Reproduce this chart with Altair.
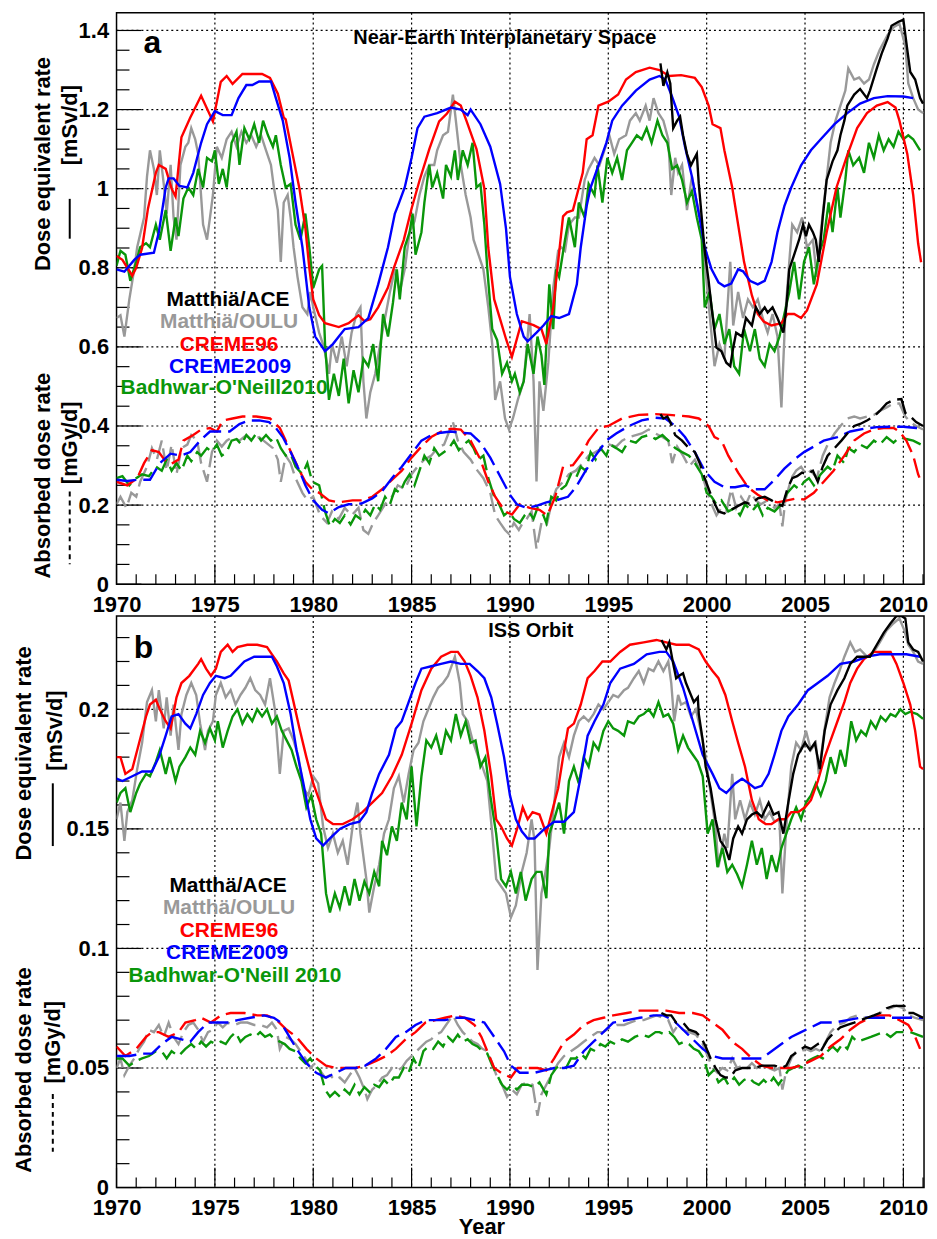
import altair as alt
import pandas as pd

# ---------------- data: (year, value) ----------------
# Panel a: Near-Earth interplanetary space
A_EQ_CREME96 = [(1970.0,0.83),(1970.3,0.82),(1970.8,0.78),(1971.0,0.80),(1971.3,0.85),(1971.6,0.95),(1972.0,1.04),(1972.15,1.06),(1972.5,1.05),(1972.8,1.00),(1973.0,0.98),(1973.3,1.13),(1973.75,1.18),(1974.15,1.22),(1974.3,1.235),(1974.9,1.17),(1975.3,1.27),(1975.6,1.285),(1975.9,1.265),(1976.4,1.29),(1977.4,1.29),(1977.8,1.28),(1978.2,1.24),(1978.5,1.18),(1978.6,1.175),(1978.9,1.10),(1979.3,1.00),(1979.6,0.90),(1979.8,0.80),(1980.0,0.72),(1980.3,0.68),(1980.6,0.66),(1981.3,0.65),(1981.8,0.66),(1982.3,0.68),(1982.6,0.665),(1982.9,0.67),(1983.3,0.70),(1983.8,0.75),(1984.1,0.80),(1984.6,0.87),(1985.0,0.95),(1985.4,1.02),(1985.9,1.10),(1986.4,1.17),(1986.8,1.19),(1987.2,1.22),(1987.5,1.21),(1987.8,1.17),(1988.3,1.10),(1988.7,1.00),(1988.9,0.85),(1989.2,0.72),(1989.5,0.67),(1989.8,0.62),(1990.1,0.575),(1990.6,0.665),(1991.2,0.655),(1991.6,0.645),(1991.85,0.607),(1992.2,0.70),(1992.7,0.93),(1992.9,0.94),(1993.2,0.945),(1993.7,1.04),(1993.9,1.125),(1994.2,1.135),(1994.5,1.21),(1995.0,1.22),(1995.5,1.238),(1995.9,1.276),(1996.4,1.295),(1997.1,1.306),(1997.6,1.30),(1998.1,1.285),(1998.7,1.287),(1999.4,1.28),(1999.75,1.257),(2000.1,1.21),(2000.3,1.163),(2000.7,1.153),(2000.9,1.097),(2001.3,1.003),(2001.6,0.909),(2001.9,0.815),(2002.3,0.73),(2002.6,0.683),(2002.9,0.664),(2003.3,0.654),(2003.8,0.66),(2004.1,0.683),(2004.45,0.683),(2004.8,0.673),(2005.1,0.692),(2005.6,0.758),(2006.1,0.89),(2006.6,1.003),(2007.1,1.078),(2007.65,1.153),(2008.15,1.191),(2008.65,1.21),(2009.2,1.219),(2009.6,1.205),(2009.8,1.172),(2010.2,1.088),(2010.5,0.984),(2010.75,0.862),(2010.9,0.814)]
A_EQ_CREME2009 = [(1970.0,0.796),(1970.4,0.79),(1970.9,0.82),(1971.2,0.833),(1971.9,0.838),(1972.15,0.89),(1972.5,1.003),(1972.65,1.026),(1972.9,1.026),(1973.2,1.007),(1973.6,1.003),(1973.9,1.04),(1974.3,1.116),(1974.6,1.163),(1975.0,1.196),(1975.4,1.186),(1975.85,1.186),(1976.2,1.229),(1976.6,1.262),(1976.9,1.262),(1977.25,1.271),(1977.85,1.271),(1978.1,1.229),(1978.45,1.172),(1978.8,1.078),(1979.1,0.965),(1979.45,0.852),(1979.8,0.70),(1980.1,0.626),(1980.6,0.589),(1981.0,0.607),(1981.3,0.626),(1981.6,0.645),(1982.3,0.65),(1982.8,0.673),(1983.3,0.758),(1983.8,0.852),(1984.15,0.937),(1984.3,0.956),(1984.65,1.003),(1985.0,1.078),(1985.3,1.153),(1985.65,1.182),(1986.3,1.191),(1987.0,1.205),(1987.5,1.20),(1987.85,1.186),(1988.0,1.20),(1988.5,1.163),(1989.0,1.106),(1989.5,1.012),(1989.8,0.899),(1990.0,0.777),(1990.35,0.683),(1990.7,0.626),(1990.9,0.614),(1991.35,0.636),(1991.7,0.654),(1992.1,0.678),(1992.5,0.673),(1993.0,0.683),(1993.4,0.758),(1993.6,0.852),(1993.9,0.956),(1994.1,1.003),(1994.5,1.059),(1994.9,1.116),(1995.2,1.172),(1995.7,1.21),(1996.4,1.248),(1997.1,1.276),(1997.6,1.285),(1997.9,1.276),(1998.2,1.238),(1998.6,1.182),(1998.9,1.106),(1999.25,1.031),(1999.6,0.937),(1999.9,0.852),(2000.25,0.796),(2000.6,0.763),(2000.9,0.753),(2001.25,0.76),(2001.6,0.796),(2001.85,0.791),(2002.2,0.767),(2002.6,0.758),(2002.95,0.767),(2003.3,0.815),(2003.6,0.89),(2003.95,0.956),(2004.3,1.003),(2004.8,1.059),(2005.3,1.097),(2005.8,1.125),(2006.5,1.163),(2007.15,1.191),(2007.8,1.215),(2008.5,1.229),(2009.2,1.234),(2010.0,1.233),(2010.5,1.229)]
A_EQ_ACE = [(1997.65,1.317),(1997.8,1.26),(1998.0,1.294),(1998.15,1.266),(1998.3,1.153),(1998.5,1.172),(1998.65,1.182),(1998.8,1.135),(1999.0,1.088),(1999.2,1.059),(1999.3,1.069),(1999.5,1.088),(1999.6,1.012),(1999.75,0.927),(1999.9,0.843),(2000.1,0.767),(2000.25,0.70),(2000.5,0.598),(2000.75,0.589),(2001.0,0.56),(2001.2,0.551),(2001.35,0.598),(2001.5,0.636),(2001.8,0.626),(2002.0,0.673),(2002.3,0.654),(2002.5,0.70),(2002.7,0.683),(2002.95,0.70),(2003.1,0.687),(2003.35,0.70),(2003.6,0.673),(2003.9,0.636),(2004.05,0.70),(2004.2,0.796),(2004.45,0.833),(2004.7,0.871),(2004.9,0.909),(2005.05,0.88),(2005.2,0.909),(2005.4,0.89),(2005.55,0.871),(2005.7,0.815),(2005.9,0.927),(2006.1,1.022),(2006.4,1.069),(2006.65,1.097),(2006.8,1.135),(2007.0,1.172),(2007.15,1.21),(2007.5,1.238),(2007.8,1.252),(2008.15,1.229),(2008.3,1.248),(2008.65,1.304),(2008.9,1.342),(2009.2,1.38),(2009.4,1.412),(2009.75,1.422),(2010.0,1.427),(2010.2,1.351),(2010.35,1.295),(2010.6,1.276),(2010.85,1.229),(2011.0,1.215)]
A_EQ_OULU = [(1970.0,0.673),(1970.2,0.68),(1970.4,0.626),(1970.65,0.72),(1970.9,0.796),(1971.05,0.852),(1971.4,0.927),(1971.55,1.031),(1971.7,1.097),(1971.9,1.05),(1972.05,0.984),(1972.2,1.097),(1972.4,1.012),(1972.55,0.937),(1972.75,1.06),(1972.9,0.927),(1973.05,0.871),(1973.25,1.06),(1973.5,1.106),(1973.65,1.116),(1973.8,1.153),(1974.0,1.125),(1974.15,1.088),(1974.4,0.909),(1974.6,0.871),(1974.75,0.927),(1974.9,0.984),(1975.1,1.106),(1975.35,1.078),(1975.6,1.125),(1975.85,1.144),(1976.1,1.106),(1976.35,1.144),(1976.6,1.116),(1976.85,1.135),(1977.1,1.106),(1977.35,1.135),(1977.6,1.097),(1977.85,1.06),(1978.0,1.003),(1978.2,0.946),(1978.35,0.815),(1978.5,0.965),(1978.7,0.984),(1978.85,0.927),(1979.0,0.852),(1979.2,0.777),(1979.45,0.70),(1979.7,0.683),(1979.85,0.739),(1980.0,0.70),(1980.3,0.636),(1980.55,0.598),(1980.8,0.532),(1980.95,0.607),(1981.2,0.56),(1981.45,0.626),(1981.7,0.551),(1981.95,0.636),(1982.2,0.683),(1982.4,0.70),(1982.55,0.513),(1982.7,0.419),(1982.9,0.485),(1983.15,0.532),(1983.4,0.607),(1983.65,0.673),(1983.9,0.739),(1984.15,0.796),(1984.4,0.739),(1984.65,0.796),(1984.9,0.89),(1985.15,0.918),(1985.4,0.984),(1985.65,1.031),(1985.9,1.06),(1986.15,1.06),(1986.3,1.097),(1986.6,1.135),(1986.85,1.144),(1987.1,1.238),(1987.25,1.172),(1987.5,1.06),(1987.75,0.984),(1988.0,0.927),(1988.15,0.871),(1988.4,0.833),(1988.65,0.796),(1988.9,0.70),(1989.1,0.607),(1989.25,0.466),(1989.5,0.513),(1989.75,0.419),(1989.95,0.391),(1990.15,0.419),(1990.4,0.466),(1990.7,0.513),(1991.0,0.683),(1991.2,0.513),(1991.35,0.26),(1991.5,0.513),(1991.7,0.438),(1991.95,0.56),(1992.2,0.749),(1992.45,0.843),(1992.6,0.852),(1992.8,0.843),(1993.0,0.909),(1993.3,0.927),(1993.5,0.927),(1993.8,1.022),(1994.0,1.05),(1994.3,1.078),(1994.55,1.059),(1994.8,1.097),(1995.05,1.135),(1995.3,1.088),(1995.55,1.125),(1995.9,1.135),(1996.1,1.172),(1996.4,1.191),(1996.6,1.172),(1996.9,1.21),(1997.1,1.172),(1997.3,1.229),(1997.55,1.191),(1997.8,1.172),(1998.05,1.125),(1998.2,0.984),(1998.4,1.078),(1998.55,1.04),(1998.75,1.06),(1999.0,0.946),(1999.25,1.031),(1999.5,0.965),(1999.75,0.909),(1999.9,0.815),(2000.15,0.683),(2000.4,0.551),(2000.65,0.607),(2000.9,0.57),(2001.2,0.815),(2001.35,0.654),(2001.6,0.739),(2001.85,0.673),(2002.1,0.72),(2002.35,0.70),(2002.6,0.72),(2002.85,0.673),(2003.1,0.636),(2003.35,0.683),(2003.6,0.626),(2003.8,0.447),(2004.0,0.683),(2004.2,0.815),(2004.35,0.909),(2004.6,0.89),(2004.85,0.927),(2005.1,0.852),(2005.4,0.871),(2005.6,0.777),(2005.8,0.89),(2006.05,1.003),(2006.3,1.116),(2006.55,1.172),(2006.8,1.21),(2007.05,1.248),(2007.2,1.304),(2007.5,1.276),(2007.75,1.281),(2008.0,1.266),(2008.25,1.276),(2008.5,1.314),(2008.8,1.351),(2009.2,1.389),(2009.5,1.408),(2009.8,1.417),(2010.1,1.361),(2010.25,1.266),(2010.5,1.229),(2010.75,1.20),(2011.0,1.191)]
A_EQ_BON = [(1970.0,0.805),(1970.2,0.843),(1970.45,0.833),(1970.7,0.767),(1971.0,0.815),(1971.2,0.852),(1971.5,0.862),(1971.7,0.852),(1972.0,0.909),(1972.2,0.871),(1972.5,0.946),(1972.75,0.843),(1973.0,0.927),(1973.15,0.88),(1973.4,0.975),(1973.65,1.003),(1973.9,0.984),(1974.15,1.05),(1974.4,1.003),(1974.6,1.078),(1974.85,1.069),(1975.0,1.097),(1975.2,1.012),(1975.4,1.05),(1975.6,1.003),(1975.85,1.116),(1976.1,1.144),(1976.25,1.06),(1976.5,1.153),(1976.75,1.125),(1977.0,1.163),(1977.25,1.116),(1977.45,1.172),(1977.7,1.135),(1977.95,1.106),(1978.1,1.135),(1978.35,1.06),(1978.6,1.003),(1978.85,1.012),(1979.1,0.909),(1979.35,0.871),(1979.6,0.937),(1979.8,0.852),(1980.0,0.749),(1980.3,0.796),(1980.45,0.805),(1980.6,0.607),(1980.8,0.466),(1981.05,0.532),(1981.3,0.476),(1981.55,0.57),(1981.8,0.457),(1982.05,0.541),(1982.3,0.485),(1982.55,0.57),(1982.8,0.551),(1983.05,0.607),(1983.3,0.513),(1983.55,0.683),(1983.8,0.626),(1984.05,0.711),(1984.25,0.796),(1984.4,0.72),(1984.65,0.852),(1984.9,0.89),(1985.05,0.937),(1985.2,0.833),(1985.5,0.89),(1985.65,0.965),(1985.9,1.06),(1986.05,1.003),(1986.3,1.04),(1986.6,0.975),(1986.75,1.06),(1987.0,1.031),(1987.2,1.097),(1987.35,1.022),(1987.6,1.097),(1987.85,1.06),(1988.1,1.116),(1988.3,1.003),(1988.5,1.012),(1988.7,0.909),(1988.85,0.796),(1989.1,0.645),(1989.35,0.617),(1989.6,0.532),(1989.85,0.56),(1990.1,0.513),(1990.25,0.532),(1990.5,0.485),(1990.7,0.513),(1990.9,0.607),(1991.2,0.532),(1991.4,0.626),(1991.6,0.579),(1991.75,0.504),(1992.0,0.758),(1992.2,0.645),(1992.35,0.796),(1992.5,0.777),(1992.8,0.871),(1993.0,0.927),(1993.3,0.852),(1993.5,0.965),(1993.8,0.927),(1994.0,1.012),(1994.3,0.984),(1994.45,1.059),(1994.7,0.965),(1994.95,1.078),(1995.2,1.04),(1995.45,1.078),(1995.7,1.022),(1995.95,1.097),(1996.2,1.116),(1996.45,1.135),(1996.7,1.125),(1996.95,1.153),(1997.2,1.116),(1997.5,1.172),(1997.75,1.135),(1998.0,1.116),(1998.25,1.05),(1998.5,1.059),(1998.75,1.022),(1999.0,0.965),(1999.25,0.994),(1999.5,0.927),(1999.75,0.871),(1999.9,0.70),(2000.15,0.739),(2000.4,0.645),(2000.65,0.683),(2000.9,0.607),(2001.15,0.645),(2001.4,0.551),(2001.65,0.532),(2001.9,0.645),(2002.2,0.589),(2002.45,0.645),(2002.7,0.57),(2002.95,0.551),(2003.2,0.607),(2003.45,0.589),(2003.7,0.626),(2003.95,0.683),(2004.2,0.739),(2004.45,0.815),(2004.7,0.72),(2004.95,0.815),(2005.2,0.852),(2005.45,0.758),(2005.7,0.833),(2005.95,0.871),(2006.2,0.965),(2006.4,0.89),(2006.65,1.003),(2006.8,0.927),(2007.05,1.022),(2007.2,1.097),(2007.45,1.059),(2007.75,1.078),(2008.0,1.04),(2008.25,1.116),(2008.5,1.078),(2008.75,1.135),(2009.0,1.097),(2009.25,1.125),(2009.5,1.106),(2009.75,1.144),(2010.0,1.125),(2010.25,1.135),(2010.5,1.125),(2010.85,1.097)]

A_AB_CREME96 = [(1970.0,0.259),(1970.55,0.25),(1971.05,0.268),(1971.4,0.306),(1971.8,0.339),(1972.15,0.334),(1972.5,0.31),(1972.8,0.305),(1973.15,0.315),(1973.4,0.363),(1973.9,0.377),(1974.3,0.391),(1974.75,0.395),(1975.1,0.386),(1975.4,0.414),(1975.9,0.419),(1976.4,0.424),(1977.1,0.424),(1977.8,0.419),(1978.3,0.395),(1978.6,0.363),(1978.95,0.325),(1979.3,0.287),(1979.6,0.259),(1979.95,0.24),(1980.3,0.231),(1980.8,0.212),(1981.3,0.207),(1982.0,0.212),(1982.5,0.212),(1983.0,0.221),(1983.5,0.24),(1984.0,0.264),(1984.5,0.287),(1985.0,0.32),(1985.5,0.348),(1986.0,0.372),(1986.5,0.386),(1987.0,0.393),(1987.5,0.391),(1988.0,0.363),(1988.5,0.315),(1988.9,0.259),(1989.25,0.221),(1989.75,0.184),(1990.1,0.176),(1990.5,0.202),(1991.0,0.193),(1991.5,0.188),(1991.9,0.174),(1992.3,0.221),(1992.7,0.297),(1993.2,0.301),(1993.7,0.334),(1994.0,0.363),(1994.5,0.395),(1995.0,0.40),(1995.7,0.419),(1996.55,0.428),(1997.4,0.43),(1998.1,0.428),(1999.1,0.424),(1999.6,0.419),(2000.1,0.40),(2000.4,0.372),(2000.75,0.363),(2001.1,0.325),(2001.6,0.282),(2002.1,0.245),(2002.6,0.226),(2003.1,0.212),(2003.6,0.207),(2004.1,0.212),(2004.6,0.217),(2004.95,0.214),(2005.45,0.231),(2005.95,0.259),(2006.45,0.287),(2007.0,0.325),(2007.5,0.363),(2008.0,0.381),(2008.5,0.391),(2009.0,0.395),(2009.5,0.395),(2009.8,0.386),(2010.15,0.363),(2010.5,0.325),(2010.75,0.278),(2010.9,0.259)]
A_AB_CREME2009 = [(1970.0,0.264),(1970.55,0.261),(1971.05,0.264),(1971.7,0.264),(1972.2,0.306),(1972.75,0.33),(1973.25,0.325),(1973.75,0.334),(1974.25,0.363),(1974.75,0.386),(1975.25,0.386),(1975.75,0.386),(1976.25,0.405),(1976.75,0.414),(1977.25,0.414),(1977.75,0.41),(1978.1,0.395),(1978.45,0.372),(1978.85,0.334),(1979.3,0.287),(1979.6,0.25),(1980.0,0.212),(1980.45,0.188),(1980.8,0.179),(1981.3,0.195),(1981.8,0.202),(1982.45,0.204),(1983.0,0.217),(1983.5,0.235),(1984.0,0.268),(1984.5,0.297),(1985.0,0.33),(1985.5,0.363),(1986.0,0.377),(1986.5,0.383),(1987.0,0.386),(1987.5,0.383),(1988.0,0.381),(1988.5,0.358),(1989.0,0.32),(1989.5,0.273),(1990.0,0.226),(1990.35,0.202),(1990.85,0.193),(1991.35,0.198),(1991.85,0.207),(1992.35,0.212),(1992.95,0.221),(1993.35,0.245),(1993.85,0.287),(1994.35,0.325),(1994.9,0.363),(1995.4,0.381),(1996.05,0.40),(1996.7,0.414),(1997.4,0.421),(1997.9,0.419),(1998.4,0.40),(1998.9,0.372),(1999.4,0.334),(1999.9,0.287),(2000.4,0.259),(2000.9,0.245),(2001.45,0.245),(2001.95,0.25),(2002.45,0.24),(2002.95,0.24),(2003.45,0.264),(2003.95,0.292),(2004.45,0.315),(2004.95,0.334),(2005.45,0.348),(2005.95,0.363),(2006.65,0.372),(2007.3,0.386),(2008.0,0.393),(2008.65,0.397),(2009.3,0.398),(2010.0,0.398),(2010.65,0.395),(2011.0,0.395)]
A_AB_ACE = [(1997.65,0.43),(1997.8,0.419),(1998.0,0.424),(1998.15,0.41),(1998.4,0.377),(1998.75,0.363),(1999.1,0.344),(1999.4,0.334),(1999.65,0.306),(1999.9,0.268),(2000.25,0.221),(2000.6,0.184),(2000.9,0.179),(2001.25,0.188),(2001.6,0.198),(2001.95,0.207),(2002.25,0.202),(2002.6,0.217),(2002.95,0.221),(2003.3,0.212),(2003.6,0.202),(2003.85,0.198),(2004.1,0.24),(2004.35,0.268),(2004.6,0.273),(2004.85,0.282),(2005.1,0.278),(2005.4,0.287),(2005.65,0.259),(2005.9,0.297),(2006.15,0.325),(2006.5,0.344),(2006.85,0.363),(2007.15,0.381),(2007.5,0.40),(2007.8,0.405),(2008.15,0.414),(2008.5,0.424),(2008.8,0.438),(2009.15,0.457),(2009.5,0.466),(2009.9,0.468),(2010.1,0.433),(2010.35,0.424),(2010.65,0.41),(2011.0,0.40)]
A_AB_OULU = [(1970.0,0.202),(1970.2,0.221),(1970.5,0.193),(1970.75,0.231),(1971.0,0.221),(1971.2,0.259),(1971.55,0.297),(1971.8,0.344),(1972.05,0.315),(1972.3,0.363),(1972.55,0.287),(1972.8,0.353),(1973.05,0.278),(1973.3,0.344),(1973.6,0.353),(1973.8,0.377),(1974.1,0.363),(1974.3,0.306),(1974.6,0.259),(1974.85,0.334),(1975.1,0.363),(1975.35,0.348),(1975.6,0.363),(1975.9,0.372),(1976.25,0.363),(1976.6,0.377),(1976.9,0.363),(1977.25,0.372),(1977.6,0.358),(1977.95,0.344),(1978.2,0.315),(1978.35,0.259),(1978.6,0.325),(1978.85,0.306),(1979.1,0.268),(1979.45,0.231),(1979.7,0.212),(1980.0,0.221),(1980.35,0.174),(1980.7,0.155),(1980.95,0.184),(1981.3,0.165),(1981.6,0.193),(1981.95,0.174),(1982.3,0.193),(1982.55,0.137),(1982.8,0.127),(1983.05,0.155),(1983.3,0.174),(1983.65,0.202),(1984.0,0.221),(1984.3,0.25),(1984.65,0.24),(1985.0,0.278),(1985.3,0.297),(1985.65,0.315),(1986.0,0.325),(1986.3,0.344),(1986.65,0.353),(1987.1,0.41),(1987.35,0.363),(1987.65,0.334),(1988.0,0.315),(1988.35,0.287),(1988.65,0.268),(1989.0,0.231),(1989.25,0.174),(1989.5,0.155),(1989.75,0.137),(1989.95,0.127),(1990.2,0.155),(1990.45,0.137),(1990.65,0.155),(1990.85,0.165),(1991.1,0.184),(1991.35,0.089),(1991.6,0.155),(1991.85,0.146),(1992.1,0.202),(1992.35,0.24),(1992.7,0.259),(1993.0,0.278),(1993.35,0.287),(1993.7,0.306),(1994.0,0.325),(1994.35,0.334),(1994.7,0.344),(1995.05,0.353),(1995.4,0.348),(1995.7,0.363),(1996.05,0.372),(1996.4,0.377),(1996.7,0.381),(1997.05,0.391),(1997.4,0.381),(1997.75,0.372),(1998.05,0.363),(1998.25,0.306),(1998.5,0.348),(1998.8,0.325),(1999.1,0.297),(1999.4,0.315),(1999.75,0.278),(2000.0,0.24),(2000.25,0.202),(2000.5,0.174),(2000.75,0.193),(2001.0,0.184),(2001.25,0.24),(2001.5,0.193),(2001.75,0.221),(2002.0,0.202),(2002.25,0.231),(2002.5,0.212),(2002.75,0.202),(2003.1,0.212),(2003.45,0.193),(2003.7,0.202),(2003.85,0.146),(2004.0,0.212),(2004.3,0.268),(2004.55,0.287),(2004.8,0.297),(2005.05,0.278),(2005.3,0.287),(2005.6,0.268),(2005.9,0.325),(2006.15,0.353),(2006.5,0.381),(2006.8,0.40),(2007.15,0.419),(2007.5,0.424),(2007.8,0.419),(2008.15,0.424),(2008.5,0.428),(2008.8,0.438),(2009.15,0.447),(2009.5,0.457),(2009.8,0.457),(2010.1,0.424),(2010.35,0.41),(2010.65,0.40),(2011.0,0.391)]
A_AB_BON = [(1970.0,0.268),(1970.3,0.273),(1970.65,0.25),(1971.0,0.268),(1971.3,0.278),(1971.65,0.273),(1972.0,0.297),(1972.3,0.287),(1972.55,0.315),(1972.8,0.287),(1973.05,0.306),(1973.3,0.287),(1973.6,0.325),(1973.8,0.311),(1974.1,0.334),(1974.3,0.325),(1974.6,0.344),(1974.85,0.334),(1975.1,0.353),(1975.35,0.325),(1975.6,0.334),(1975.85,0.363),(1976.1,0.367),(1976.35,0.353),(1976.6,0.377),(1976.85,0.363),(1977.1,0.381),(1977.35,0.363),(1977.6,0.377),(1977.85,0.363),(1978.1,0.372),(1978.35,0.344),(1978.6,0.325),(1978.85,0.33),(1979.1,0.297),(1979.45,0.278),(1979.7,0.306),(1979.95,0.259),(1980.3,0.25),(1980.6,0.184),(1980.85,0.146),(1981.1,0.165),(1981.35,0.155),(1981.6,0.174),(1981.9,0.151),(1982.15,0.174),(1982.4,0.165),(1982.65,0.188),(1982.9,0.174),(1983.15,0.202),(1983.4,0.188),(1983.65,0.221),(1983.9,0.202),(1984.15,0.24),(1984.4,0.231),(1984.65,0.259),(1984.9,0.278),(1985.15,0.25),(1985.4,0.287),(1985.65,0.325),(1985.9,0.306),(1986.15,0.344),(1986.4,0.325),(1986.65,0.334),(1986.9,0.344),(1987.15,0.363),(1987.4,0.339),(1987.65,0.353),(1987.9,0.363),(1988.15,0.344),(1988.4,0.315),(1988.65,0.325),(1988.9,0.268),(1989.2,0.221),(1989.45,0.202),(1989.7,0.174),(1989.95,0.184),(1990.2,0.165),(1990.5,0.155),(1990.75,0.174),(1990.95,0.184),(1991.2,0.165),(1991.4,0.193),(1991.7,0.174),(1991.85,0.155),(1992.1,0.221),(1992.35,0.212),(1992.6,0.24),(1992.85,0.25),(1993.1,0.278),(1993.35,0.268),(1993.6,0.297),(1993.85,0.287),(1994.1,0.334),(1994.35,0.315),(1994.6,0.344),(1994.9,0.325),(1995.1,0.353),(1995.4,0.344),(1995.7,0.334),(1996.05,0.363),(1996.4,0.358),(1996.7,0.372),(1997.05,0.377),(1997.4,0.367),(1997.75,0.377),(1998.05,0.363),(1998.4,0.344),(1998.75,0.334),(1999.1,0.325),(1999.4,0.306),(1999.75,0.278),(2000.0,0.231),(2000.25,0.221),(2000.5,0.202),(2000.75,0.212),(2001.1,0.184),(2001.45,0.193),(2001.7,0.174),(2001.95,0.202),(2002.3,0.184),(2002.6,0.202),(2002.85,0.174),(2003.1,0.193),(2003.45,0.184),(2003.8,0.202),(2004.1,0.231),(2004.45,0.25),(2004.7,0.24),(2004.95,0.259),(2005.2,0.268),(2005.45,0.25),(2005.8,0.278),(2006.15,0.297),(2006.4,0.287),(2006.65,0.325),(2007.0,0.306),(2007.2,0.344),(2007.5,0.334),(2007.8,0.353),(2008.15,0.344),(2008.5,0.363),(2008.8,0.353),(2009.15,0.372),(2009.5,0.358),(2009.8,0.372),(2010.15,0.367),(2010.5,0.363),(2010.9,0.353)]

# Panel b: ISS orbit
B_EQ_CREME96 = [(1970.0,0.18),(1970.2,0.18),(1970.45,0.173),(1970.8,0.175),(1971.15,0.186),(1971.5,0.197),(1971.7,0.202),(1972.0,0.204),(1972.2,0.20),(1972.5,0.195),(1972.75,0.192),(1973.05,0.205),(1973.3,0.211),(1973.7,0.214),(1974.15,0.219),(1974.3,0.221),(1974.55,0.217),(1974.8,0.214),(1975.05,0.217),(1975.3,0.224),(1975.65,0.227),(1975.9,0.224),(1976.15,0.226),(1976.65,0.227),(1977.15,0.227),(1977.65,0.226),(1977.9,0.223),(1978.15,0.22),(1978.5,0.215),(1978.75,0.212),(1979.0,0.203),(1979.3,0.192),(1979.65,0.18),(1980.0,0.169),(1980.35,0.161),(1980.65,0.154),(1981.0,0.152),(1981.5,0.152),(1982.0,0.154),(1982.5,0.157),(1983.0,0.161),(1983.5,0.165),(1984.0,0.172),(1984.5,0.181),(1985.0,0.194),(1985.5,0.208),(1986.0,0.217),(1986.5,0.222),(1987.0,0.224),(1987.35,0.224),(1987.7,0.22),(1988.0,0.214),(1988.35,0.205),(1988.7,0.191),(1989.05,0.172),(1989.3,0.154),(1989.55,0.151),(1989.85,0.146),(1990.1,0.143),(1990.4,0.151),(1990.65,0.159),(1990.9,0.154),(1991.15,0.157),(1991.5,0.156),(1991.85,0.148),(1992.1,0.156),(1992.45,0.167),(1992.7,0.18),(1992.95,0.192),(1993.25,0.194),(1993.6,0.202),(1993.95,0.213),(1994.3,0.216),(1994.7,0.22),(1995.1,0.22),(1995.6,0.224),(1996.1,0.227),(1996.8,0.228),(1997.45,0.229),(1997.95,0.228),(1998.45,0.227),(1999.1,0.227),(1999.6,0.225),(1999.95,0.22),(2000.3,0.216),(2000.6,0.213),(2000.95,0.206),(2001.3,0.195),(2001.6,0.186),(2001.95,0.176),(2002.3,0.162),(2002.65,0.154),(2003.0,0.152),(2003.3,0.152),(2003.65,0.154),(2004.0,0.154),(2004.3,0.157),(2004.65,0.157),(2005.0,0.159),(2005.3,0.162),(2005.65,0.17),(2006.0,0.18),(2006.3,0.187),(2006.65,0.195),(2007.0,0.203),(2007.3,0.211),(2007.65,0.217),(2008.0,0.221),(2008.5,0.224),(2009.0,0.224),(2009.35,0.224),(2009.65,0.219),(2010.0,0.211),(2010.35,0.202),(2010.6,0.191),(2010.85,0.176),(2011.0,0.175)]
B_EQ_CREME2009 = [(1970.0,0.171),(1970.3,0.17),(1970.8,0.172),(1971.3,0.174),(1971.8,0.174),(1972.15,0.18),(1972.5,0.189),(1972.8,0.197),(1973.15,0.198),(1973.5,0.194),(1973.75,0.192),(1974.05,0.198),(1974.4,0.206),(1974.75,0.211),(1975.05,0.214),(1975.5,0.213),(1975.8,0.214),(1976.15,0.217),(1976.5,0.22),(1977.0,0.222),(1977.5,0.222),(1977.9,0.222),(1978.15,0.218),(1978.5,0.211),(1978.85,0.198),(1979.15,0.183),(1979.5,0.169),(1979.85,0.154),(1980.15,0.146),(1980.5,0.143),(1980.85,0.146),(1981.35,0.15),(1981.85,0.152),(1982.35,0.153),(1982.7,0.157),(1983.0,0.165),(1983.35,0.173),(1983.85,0.181),(1984.2,0.192),(1984.5,0.195),(1984.85,0.203),(1985.2,0.211),(1985.5,0.217),(1986.0,0.218),(1986.5,0.219),(1987.0,0.22),(1987.5,0.219),(1987.95,0.219),(1988.35,0.216),(1988.7,0.213),(1989.05,0.205),(1989.35,0.194),(1989.7,0.18),(1990.0,0.164),(1990.3,0.154),(1990.6,0.149),(1990.9,0.146),(1991.25,0.146),(1991.75,0.15),(1992.25,0.153),(1992.75,0.153),(1993.25,0.157),(1993.6,0.172),(1993.95,0.189),(1994.3,0.195),(1994.75,0.202),(1995.1,0.211),(1995.6,0.217),(1996.3,0.219),(1996.95,0.223),(1997.6,0.224),(1997.95,0.224),(1998.3,0.22),(1998.8,0.209),(1999.3,0.195),(1999.8,0.181),(2000.3,0.173),(2000.65,0.167),(2001.0,0.165),(2001.45,0.169),(2001.8,0.171),(2002.15,0.169),(2002.45,0.167),(2002.8,0.168),(2003.15,0.173),(2003.45,0.181),(2003.8,0.191),(2004.15,0.197),(2004.65,0.202),(2005.15,0.208),(2005.65,0.211),(2006.15,0.214),(2006.8,0.219),(2007.5,0.22),(2008.15,0.222),(2008.8,0.223),(2009.5,0.223),(2010.15,0.223),(2010.85,0.222)]
B_EQ_ACE = [(1997.7,0.229),(1997.95,0.225),(1998.1,0.228),(1998.3,0.219),(1998.45,0.213),(1998.6,0.214),(1998.8,0.215),(1998.95,0.211),(1999.1,0.208),(1999.35,0.203),(1999.55,0.205),(1999.6,0.198),(1999.8,0.187),(1999.95,0.176),(2000.2,0.167),(2000.45,0.154),(2000.7,0.145),(2000.95,0.142),(2001.15,0.137),(2001.35,0.146),(2001.6,0.151),(2001.8,0.148),(2002.05,0.154),(2002.3,0.156),(2002.55,0.157),(2002.8,0.155),(2003.15,0.161),(2003.4,0.156),(2003.65,0.157),(2003.9,0.148),(2004.15,0.161),(2004.4,0.173),(2004.65,0.181),(2005.0,0.186),(2005.25,0.183),(2005.5,0.186),(2005.75,0.175),(2006.0,0.191),(2006.3,0.202),(2006.65,0.208),(2007.0,0.213),(2007.3,0.219),(2007.65,0.222),(2008.0,0.222),(2008.3,0.222),(2008.65,0.227),(2009.0,0.232),(2009.35,0.236),(2009.65,0.239),(2009.9,0.239),(2010.1,0.238),(2010.25,0.228),(2010.5,0.225),(2010.75,0.224),(2011.0,0.22)]
B_EQ_OULU = [(1970.0,0.154),(1970.2,0.161),(1970.4,0.145),(1970.55,0.157),(1970.8,0.162),(1971.05,0.175),(1971.3,0.186),(1971.55,0.203),(1971.8,0.208),(1972.0,0.195),(1972.15,0.208),(1972.4,0.192),(1972.55,0.205),(1972.75,0.189),(1972.9,0.202),(1973.15,0.183),(1973.3,0.198),(1973.55,0.206),(1973.8,0.211),(1974.05,0.206),(1974.25,0.194),(1974.5,0.183),(1974.65,0.191),(1974.9,0.195),(1975.05,0.206),(1975.3,0.211),(1975.55,0.205),(1975.8,0.208),(1976.05,0.202),(1976.3,0.206),(1976.55,0.209),(1976.8,0.213),(1977.05,0.208),(1977.3,0.206),(1977.55,0.202),(1977.8,0.213),(1978.05,0.20),(1978.3,0.173),(1978.5,0.191),(1978.75,0.192),(1979.0,0.187),(1979.25,0.18),(1979.5,0.167),(1979.75,0.164),(1980.0,0.172),(1980.25,0.169),(1980.5,0.151),(1980.75,0.142),(1981.0,0.148),(1981.25,0.14),(1981.5,0.145),(1981.75,0.135),(1982.0,0.151),(1982.25,0.161),(1982.4,0.148),(1982.7,0.129),(1982.85,0.115),(1983.1,0.126),(1983.35,0.135),(1983.6,0.148),(1983.85,0.154),(1984.1,0.167),(1984.35,0.172),(1984.6,0.161),(1984.85,0.173),(1985.1,0.183),(1985.35,0.186),(1985.6,0.195),(1985.85,0.20),(1986.1,0.205),(1986.35,0.209),(1986.6,0.211),(1986.85,0.214),(1987.2,0.222),(1987.45,0.211),(1987.6,0.198),(1987.85,0.195),(1988.1,0.187),(1988.35,0.181),(1988.6,0.176),(1988.85,0.17),(1989.1,0.148),(1989.3,0.129),(1989.55,0.126),(1989.8,0.123),(1990.05,0.113),(1990.3,0.118),(1990.6,0.132),(1990.85,0.14),(1991.1,0.154),(1991.25,0.145),(1991.4,0.091),(1991.6,0.123),(1991.75,0.129),(1992.0,0.142),(1992.25,0.161),(1992.5,0.18),(1992.75,0.186),(1993.0,0.18),(1993.25,0.189),(1993.5,0.195),(1993.75,0.197),(1994.0,0.195),(1994.25,0.198),(1994.5,0.202),(1994.75,0.20),(1995.0,0.203),(1995.25,0.206),(1995.5,0.205),(1995.8,0.208),(1996.0,0.209),(1996.3,0.213),(1996.55,0.216),(1996.8,0.211),(1997.05,0.217),(1997.3,0.216),(1997.55,0.22),(1997.8,0.216),(1998.05,0.22),(1998.2,0.211),(1998.35,0.195),(1998.55,0.206),(1998.7,0.202),(1998.95,0.203),(1999.2,0.197),(1999.45,0.20),(1999.7,0.191),(1999.95,0.18),(2000.2,0.165),(2000.45,0.151),(2000.6,0.134),(2000.9,0.148),(2001.05,0.142),(2001.3,0.173),(2001.45,0.154),(2001.7,0.162),(2001.95,0.154),(2002.2,0.161),(2002.45,0.156),(2002.7,0.162),(2002.95,0.154),(2003.2,0.157),(2003.45,0.153),(2003.7,0.154),(2003.85,0.123),(2004.05,0.151),(2004.3,0.176),(2004.55,0.186),(2004.8,0.183),(2005.05,0.191),(2005.3,0.183),(2005.55,0.186),(2005.7,0.173),(2006.0,0.192),(2006.25,0.205),(2006.5,0.211),(2006.75,0.216),(2007.0,0.222),(2007.3,0.228),(2007.55,0.224),(2007.8,0.225),(2008.15,0.222),(2008.5,0.224),(2008.8,0.228),(2009.15,0.233),(2009.5,0.236),(2009.8,0.238),(2010.05,0.233),(2010.25,0.227),(2010.5,0.224),(2010.75,0.22),(2011.0,0.219)]
B_EQ_BON = [(1970.0,0.161),(1970.2,0.165),(1970.45,0.167),(1970.7,0.157),(1971.0,0.165),(1971.2,0.169),(1971.5,0.173),(1971.7,0.172),(1972.0,0.178),(1972.2,0.183),(1972.5,0.173),(1972.7,0.18),(1973.0,0.17),(1973.2,0.176),(1973.5,0.18),(1973.75,0.184),(1974.0,0.181),(1974.25,0.191),(1974.5,0.186),(1974.75,0.192),(1975.0,0.187),(1975.15,0.195),(1975.4,0.184),(1975.65,0.191),(1975.9,0.197),(1976.15,0.20),(1976.4,0.194),(1976.65,0.198),(1976.9,0.195),(1977.15,0.20),(1977.4,0.197),(1977.65,0.20),(1977.9,0.194),(1978.15,0.197),(1978.4,0.191),(1978.65,0.187),(1978.9,0.183),(1979.15,0.176),(1979.4,0.17),(1979.65,0.159),(1979.9,0.164),(1980.15,0.154),(1980.4,0.148),(1980.65,0.123),(1980.85,0.115),(1981.1,0.123),(1981.35,0.117),(1981.6,0.126),(1981.85,0.118),(1982.1,0.129),(1982.35,0.12),(1982.6,0.128),(1982.85,0.123),(1983.1,0.132),(1983.35,0.126),(1983.5,0.145),(1983.75,0.139),(1984.0,0.151),(1984.25,0.145),(1984.5,0.161),(1984.75,0.154),(1985.0,0.176),(1985.25,0.151),(1985.5,0.172),(1985.75,0.187),(1986.0,0.184),(1986.25,0.189),(1986.5,0.181),(1986.75,0.191),(1987.0,0.187),(1987.25,0.198),(1987.5,0.189),(1987.75,0.195),(1988.0,0.186),(1988.25,0.187),(1988.5,0.176),(1988.75,0.18),(1989.0,0.164),(1989.3,0.148),(1989.55,0.129),(1989.8,0.126),(1990.05,0.132),(1990.3,0.123),(1990.55,0.132),(1990.8,0.12),(1991.1,0.129),(1991.35,0.132),(1991.6,0.132),(1991.85,0.121),(1992.0,0.148),(1992.25,0.154),(1992.5,0.161),(1992.75,0.148),(1993.0,0.17),(1993.25,0.176),(1993.5,0.169),(1993.75,0.18),(1994.0,0.176),(1994.25,0.186),(1994.5,0.183),(1994.75,0.191),(1995.0,0.195),(1995.25,0.192),(1995.5,0.191),(1995.8,0.189),(1996.0,0.195),(1996.3,0.194),(1996.55,0.197),(1996.8,0.198),(1997.05,0.20),(1997.3,0.197),(1997.55,0.203),(1997.8,0.197),(1998.05,0.198),(1998.3,0.194),(1998.55,0.183),(1998.8,0.189),(1999.05,0.184),(1999.3,0.181),(1999.55,0.178),(1999.8,0.172),(2000.05,0.148),(2000.3,0.154),(2000.55,0.134),(2000.8,0.142),(2001.05,0.132),(2001.3,0.135),(2001.55,0.131),(2001.8,0.126),(2002.05,0.135),(2002.3,0.145),(2002.55,0.135),(2002.8,0.142),(2003.05,0.129),(2003.3,0.139),(2003.55,0.132),(2003.8,0.142),(2004.05,0.148),(2004.3,0.154),(2004.55,0.159),(2004.8,0.154),(2005.05,0.161),(2005.3,0.164),(2005.55,0.169),(2005.8,0.164),(2006.05,0.17),(2006.3,0.18),(2006.55,0.173),(2006.8,0.183),(2007.05,0.176),(2007.35,0.195),(2007.6,0.187),(2007.85,0.191),(2008.1,0.189),(2008.35,0.195),(2008.6,0.192),(2008.85,0.197),(2009.1,0.195),(2009.35,0.198),(2009.6,0.197),(2009.85,0.20),(2010.1,0.198),(2010.35,0.199),(2010.7,0.198),(2011.0,0.196)]

B_AB_CREME96 = [(1970.0,0.059),(1970.45,0.055),(1971.0,0.058),(1971.5,0.063),(1971.8,0.065),(1972.15,0.065),(1972.65,0.063),(1973.15,0.065),(1973.5,0.069),(1974.0,0.07),(1974.3,0.071),(1974.8,0.069),(1975.3,0.072),(1975.8,0.073),(1976.5,0.073),(1977.15,0.072),(1977.65,0.072),(1978.15,0.07),(1978.65,0.066),(1979.15,0.063),(1979.65,0.058),(1980.15,0.054),(1980.65,0.051),(1981.15,0.05),(1981.65,0.05),(1982.15,0.05),(1982.65,0.051),(1983.2,0.053),(1983.7,0.055),(1984.2,0.058),(1984.7,0.062),(1985.2,0.065),(1985.7,0.069),(1986.2,0.07),(1986.7,0.071),(1987.2,0.072),(1987.7,0.071),(1988.2,0.068),(1988.55,0.063),(1988.85,0.057),(1989.2,0.05),(1989.55,0.048),(1990.05,0.046),(1990.4,0.05),(1990.9,0.05),(1991.4,0.05),(1991.85,0.049),(1992.25,0.054),(1992.75,0.061),(1993.25,0.064),(1993.75,0.068),(1994.25,0.07),(1994.75,0.071),(1995.25,0.072),(1995.95,0.073),(1996.6,0.074),(1997.3,0.074),(1997.95,0.074),(1998.6,0.073),(1999.3,0.073),(1999.8,0.072),(2000.3,0.069),(2000.8,0.066),(2001.3,0.061),(2001.8,0.058),(2002.3,0.054),(2002.8,0.051),(2003.3,0.05),(2003.8,0.05),(2004.3,0.05),(2004.8,0.051),(2005.3,0.053),(2005.8,0.055),(2006.3,0.059),(2006.8,0.062),(2007.3,0.066),(2007.8,0.069),(2008.3,0.071),(2008.8,0.072),(2009.3,0.072),(2009.8,0.07),(2010.25,0.068),(2010.55,0.064),(2010.85,0.058)]
B_AB_CREME2009 = [(1970.0,0.055),(1970.65,0.055),(1971.3,0.056),(1971.8,0.056),(1972.3,0.06),(1972.8,0.063),(1973.3,0.062),(1973.75,0.061),(1974.15,0.065),(1974.65,0.069),(1975.15,0.069),(1975.65,0.069),(1976.15,0.07),(1976.8,0.071),(1977.5,0.072),(1978.0,0.071),(1978.35,0.069),(1978.65,0.065),(1979.15,0.058),(1979.65,0.052),(1980.15,0.048),(1980.65,0.046),(1981.15,0.048),(1981.65,0.05),(1982.15,0.05),(1982.65,0.051),(1983.2,0.054),(1983.7,0.058),(1984.2,0.063),(1984.7,0.065),(1985.2,0.068),(1985.7,0.07),(1986.2,0.07),(1986.7,0.07),(1987.2,0.071),(1987.7,0.071),(1988.2,0.07),(1988.7,0.069),(1989.2,0.063),(1989.7,0.057),(1990.05,0.051),(1990.5,0.048),(1990.9,0.048),(1991.25,0.048),(1991.75,0.049),(1992.25,0.05),(1992.75,0.05),(1993.25,0.051),(1993.75,0.057),(1994.25,0.061),(1994.75,0.065),(1995.25,0.069),(1995.95,0.07),(1996.6,0.071),(1997.3,0.072),(1997.8,0.072),(1998.3,0.07),(1998.8,0.066),(1999.3,0.062),(1999.8,0.058),(2000.3,0.055),(2000.8,0.054),(2001.3,0.054),(2001.8,0.054),(2002.3,0.054),(2002.8,0.054),(2003.3,0.057),(2003.8,0.06),(2004.3,0.063),(2004.8,0.065),(2005.3,0.067),(2005.8,0.069),(2006.5,0.069),(2007.15,0.07),(2007.8,0.071),(2008.5,0.071),(2009.15,0.071),(2009.8,0.071),(2010.5,0.071),(2011.0,0.071)]
B_AB_ACE = [(1997.7,0.073),(1997.95,0.072),(1998.2,0.072),(1998.45,0.069),(1998.8,0.069),(1999.1,0.066),(1999.45,0.065),(1999.7,0.063),(1999.95,0.059),(2000.2,0.054),(2000.45,0.05),(2000.7,0.047),(2000.95,0.046),(2001.2,0.046),(2001.45,0.049),(2001.8,0.05),(2002.15,0.05),(2002.45,0.05),(2002.8,0.051),(2003.15,0.051),(2003.45,0.051),(2003.8,0.05),(2004.05,0.051),(2004.3,0.055),(2004.65,0.057),(2005.0,0.059),(2005.3,0.058),(2005.65,0.06),(2005.8,0.057),(2006.15,0.062),(2006.5,0.065),(2006.8,0.067),(2007.15,0.068),(2007.5,0.069),(2007.8,0.07),(2008.15,0.071),(2008.5,0.072),(2008.8,0.073),(2009.15,0.075),(2009.5,0.076),(2009.8,0.076),(2010.05,0.076),(2010.25,0.073),(2010.5,0.073),(2011.0,0.071)]
B_AB_OULU = [(1970.0,0.05),(1970.2,0.054),(1970.4,0.047),(1970.65,0.051),(1970.9,0.054),(1971.15,0.058),(1971.4,0.061),(1971.65,0.066),(1971.9,0.065),(1972.15,0.068),(1972.4,0.063),(1972.65,0.069),(1972.9,0.063),(1973.15,0.06),(1973.4,0.065),(1973.65,0.068),(1973.9,0.069),(1974.15,0.066),(1974.4,0.061),(1974.65,0.065),(1974.9,0.066),(1975.15,0.069),(1975.4,0.067),(1975.65,0.069),(1976.0,0.068),(1976.3,0.069),(1976.65,0.069),(1977.0,0.068),(1977.3,0.068),(1977.65,0.067),(1977.9,0.069),(1978.15,0.066),(1978.3,0.058),(1978.6,0.063),(1978.85,0.062),(1979.1,0.06),(1979.35,0.057),(1979.6,0.054),(1979.85,0.05),(1980.1,0.052),(1980.35,0.049),(1980.6,0.046),(1980.85,0.047),(1981.1,0.045),(1981.35,0.046),(1981.6,0.044),(1981.85,0.047),(1982.1,0.05),(1982.35,0.046),(1982.6,0.041),(1982.75,0.037),(1983.0,0.041),(1983.25,0.043),(1983.5,0.046),(1983.75,0.047),(1984.0,0.05),(1984.25,0.049),(1984.5,0.05),(1984.75,0.053),(1985.0,0.055),(1985.25,0.057),(1985.5,0.059),(1985.75,0.061),(1986.0,0.062),(1986.25,0.064),(1986.5,0.065),(1986.75,0.068),(1987.1,0.072),(1987.35,0.068),(1987.6,0.065),(1987.85,0.063),(1988.1,0.061),(1988.35,0.06),(1988.6,0.058),(1988.85,0.057),(1989.1,0.052),(1989.35,0.046),(1989.6,0.043),(1989.85,0.038),(1990.1,0.041),(1990.35,0.039),(1990.6,0.043),(1990.9,0.044),(1991.15,0.043),(1991.4,0.03),(1991.6,0.039),(1991.85,0.043),(1992.1,0.047),(1992.45,0.052),(1992.75,0.055),(1993.1,0.057),(1993.45,0.059),(1993.75,0.061),(1994.1,0.063),(1994.45,0.065),(1994.75,0.065),(1995.1,0.067),(1995.45,0.068),(1995.8,0.068),(1996.1,0.069),(1996.45,0.07),(1996.8,0.07),(1997.1,0.071),(1997.45,0.072),(1997.8,0.071),(1998.05,0.07),(1998.3,0.065),(1998.55,0.068),(1998.8,0.066),(1999.1,0.065),(1999.45,0.064),(1999.8,0.06),(2000.05,0.055),(2000.3,0.05),(2000.55,0.048),(2000.8,0.05),(2001.05,0.049),(2001.3,0.054),(2001.55,0.05),(2001.8,0.051),(2002.05,0.05),(2002.3,0.052),(2002.55,0.05),(2002.8,0.051),(2003.15,0.05),(2003.45,0.049),(2003.7,0.05),(2003.85,0.041),(2004.05,0.049),(2004.3,0.054),(2004.55,0.057),(2004.8,0.057),(2005.05,0.058),(2005.3,0.057),(2005.55,0.058),(2005.8,0.057),(2006.05,0.061),(2006.3,0.065),(2006.65,0.068),(2007.0,0.069),(2007.3,0.071),(2007.65,0.072),(2008.0,0.071),(2008.3,0.071),(2008.65,0.072),(2009.0,0.074),(2009.35,0.075),(2009.65,0.076),(2010.0,0.075),(2010.25,0.072),(2010.6,0.071),(2011.0,0.07)]
B_AB_BON = [(1970.0,0.054),(1970.3,0.054),(1970.65,0.051),(1971.0,0.053),(1971.3,0.054),(1971.65,0.055),(1972.0,0.057),(1972.3,0.057),(1972.55,0.054),(1972.8,0.057),(1973.15,0.055),(1973.5,0.058),(1973.8,0.06),(1974.05,0.058),(1974.3,0.061),(1974.55,0.059),(1974.8,0.061),(1975.05,0.06),(1975.3,0.061),(1975.55,0.06),(1975.8,0.063),(1976.05,0.065),(1976.3,0.061),(1976.55,0.063),(1976.8,0.064),(1977.05,0.063),(1977.3,0.065),(1977.55,0.063),(1977.8,0.064),(1978.05,0.062),(1978.3,0.061),(1978.55,0.06),(1978.8,0.058),(1979.1,0.057),(1979.35,0.054),(1979.6,0.052),(1979.85,0.054),(1980.1,0.051),(1980.35,0.049),(1980.6,0.041),(1980.85,0.038),(1981.1,0.04),(1981.35,0.038),(1981.6,0.041),(1981.85,0.039),(1982.1,0.043),(1982.35,0.039),(1982.6,0.042),(1982.85,0.04),(1983.1,0.043),(1983.35,0.042),(1983.6,0.045),(1983.85,0.043),(1984.1,0.046),(1984.35,0.046),(1984.6,0.05),(1984.85,0.048),(1985.1,0.054),(1985.35,0.05),(1985.6,0.057),(1985.85,0.059),(1986.1,0.058),(1986.35,0.061),(1986.6,0.059),(1986.85,0.063),(1987.1,0.061),(1987.35,0.064),(1987.6,0.061),(1987.85,0.062),(1988.1,0.06),(1988.35,0.059),(1988.6,0.057),(1988.85,0.056),(1989.1,0.051),(1989.35,0.047),(1989.6,0.043),(1989.85,0.041),(1990.1,0.043),(1990.35,0.041),(1990.6,0.043),(1990.9,0.043),(1991.25,0.042),(1991.5,0.044),(1991.85,0.039),(1992.1,0.047),(1992.35,0.05),(1992.6,0.051),(1992.85,0.05),(1993.1,0.054),(1993.35,0.054),(1993.6,0.056),(1993.85,0.054),(1994.1,0.058),(1994.35,0.057),(1994.6,0.06),(1994.85,0.059),(1995.1,0.061),(1995.35,0.06),(1995.7,0.062),(1996.0,0.061),(1996.35,0.063),(1996.7,0.064),(1997.05,0.063),(1997.4,0.065),(1997.6,0.065),(1997.85,0.064),(1998.1,0.065),(1998.35,0.063),(1998.6,0.06),(1998.85,0.061),(1999.1,0.06),(1999.35,0.058),(1999.6,0.057),(1999.85,0.054),(2000.1,0.047),(2000.35,0.049),(2000.6,0.044),(2000.9,0.046),(2001.1,0.043),(2001.4,0.046),(2001.65,0.043),(2001.9,0.045),(2002.15,0.046),(2002.4,0.044),(2002.65,0.043),(2002.9,0.045),(2003.15,0.043),(2003.4,0.046),(2003.65,0.043),(2003.9,0.046),(2004.15,0.049),(2004.4,0.05),(2004.65,0.051),(2004.9,0.05),(2005.15,0.053),(2005.4,0.054),(2005.65,0.055),(2005.9,0.054),(2006.15,0.057),(2006.4,0.059),(2006.65,0.057),(2006.9,0.06),(2007.15,0.058),(2007.4,0.063),(2007.65,0.061),(2008.0,0.062),(2008.35,0.063),(2008.65,0.064),(2009.0,0.065),(2009.35,0.063),(2009.65,0.065),(2010.0,0.065),(2010.35,0.065),(2010.7,0.064),(2011.0,0.063)]

# ---------------- axes / ticks ----------------
X_DOMAIN = [1970, 2011.05]
X_MAJOR = [1970, 1975, 1980, 1985, 1990, 1995, 2000, 2005, 2010]
X_MINOR = [y for y in range(1971, 2012) if y % 5 != 0]
A_Y_DOMAIN = [0, 1.445]
A_Y_MAJOR = [0, 0.2, 0.4, 0.6, 0.8, 1.0, 1.2, 1.4]
A_Y_MINOR = [round(0.05 * i, 2) for i in range(1, 29) if i % 4 != 0]
B_Y_DOMAIN = [0, 0.239]
B_Y_MAJOR = [0, 0.05, 0.1, 0.15, 0.2]
B_Y_MINOR = [round(0.01 * i, 2) for i in range(1, 24) if i % 5 != 0]

W, H = 811, 574
FONT = "Liberation Sans"
C_ACE, C_OULU, C_C96, C_C09, C_BON = "#000000", "#999999", "#ff0000", "#0000ff", "#0a960a"
DASH = [20, 7]
GRID_DASH = [2, 3]


def one():
    return pd.DataFrame({"k": [0]})


def make_axis(values, pad, offset=0):
    kw = dict(values=values, labelPadding=pad, labelFont=FONT, labelFontWeight="bold",
              labelFontSize=22, labelColor="black", ticks=False, domain=False, grid=False,
              labelFlush=False, labelOverlap=False, labelBound=False,
              title=None, format="~g")
    if offset:
        kw["labelOffset"] = offset
    return alt.Axis(**kw)


def panel(y_domain, y_major, y_minor, series, texts):
    xs = alt.Scale(domain=X_DOMAIN, nice=False, zero=False)
    ys = alt.Scale(domain=y_domain, nice=False, zero=False)
    xaxis = make_axis(X_MAJOR, 10)
    yaxis = make_axis(y_major, 8)

    def X(f):
        return alt.X(f, scale=xs, axis=xaxis)

    def Y(f):
        return alt.Y(f, scale=ys, axis=yaxis)

    layers = []
    # dotted grid at the major ticks
    layers.append(alt.Chart(pd.DataFrame({"v": X_MAJOR[1:]})).mark_rule(
        color="#000000", strokeWidth=1.2, strokeDash=GRID_DASH).encode(
        x=X("v:Q"), y=alt.value(0), y2=alt.value(H)))
    layers.append(alt.Chart(pd.DataFrame({"v": y_major[1:]})).mark_rule(
        color="#000000", strokeWidth=1.2, strokeDash=GRID_DASH).encode(
        y=Y("v:Q"), x=alt.value(0), x2=alt.value(W)))
    # inner ticks (ROOT style)
    layers.append(alt.Chart(pd.DataFrame({"v": y_major})).mark_rule(color="black", strokeWidth=1.2).encode(
        y=Y("v:Q"), x=alt.value(0), x2=alt.value(25)))
    layers.append(alt.Chart(pd.DataFrame({"v": y_minor})).mark_rule(color="black", strokeWidth=1.2).encode(
        y=Y("v:Q"), x=alt.value(0), x2=alt.value(13)))
    layers.append(alt.Chart(pd.DataFrame({"v": X_MAJOR})).mark_rule(color="black", strokeWidth=1.2).encode(
        x=X("v:Q"), y=alt.value(H), y2=alt.value(H - 20)))
    layers.append(alt.Chart(pd.DataFrame({"v": X_MINOR})).mark_rule(color="black", strokeWidth=1.2).encode(
        x=X("v:Q"), y=alt.value(H), y2=alt.value(H - 10)))
    for data, color, dashed in series:
        df = pd.DataFrame(data, columns=["year", "value"])
        kw = dict(color=color, strokeWidth=2.4, clip=True)
        if dashed:
            kw["strokeDash"] = DASH
        layers.append(alt.Chart(df).mark_line(**kw).encode(x=X("year:Q"), y=Y("value:Q")))
    for t in texts:
        if t[0] == "text":
            _, s, x, y, color, size, angle = t
            kw = dict(text=s, color=color, font=FONT, fontWeight="bold", fontSize=size,
                      align="center", baseline="middle")
            if angle:
                kw["angle"] = angle
            layers.append(alt.Chart(one()).mark_text(**kw).encode(x=alt.value(x), y=alt.value(y)))
        else:
            _, x, y1, y2, dashed = t
            kw = dict(color="black", strokeWidth=2)
            if dashed:
                kw["strokeDash"] = [5, 4]
            layers.append(alt.Chart(one()).mark_rule(**kw).encode(
                x=alt.value(x), y=alt.value(y1), y2=alt.value(y2)))
    return alt.layer(*layers).properties(width=W, height=H)


series_a = [
    (A_EQ_OULU, C_OULU, False), (A_EQ_BON, C_BON, False), (A_EQ_CREME96, C_C96, False),
    (A_EQ_CREME2009, C_C09, False), (A_EQ_ACE, C_ACE, False),
    (A_AB_OULU, C_OULU, True), (A_AB_BON, C_BON, True), (A_AB_CREME96, C_C96, True),
    (A_AB_CREME2009, C_C09, True), (A_AB_ACE, C_ACE, True),
]
series_b = [
    (B_EQ_OULU, C_OULU, False), (B_EQ_BON, C_BON, False), (B_EQ_CREME96, C_C96, False),
    (B_EQ_CREME2009, C_C09, False), (B_EQ_ACE, C_ACE, False),
    (B_AB_OULU, C_OULU, True), (B_AB_BON, C_BON, True), (B_AB_CREME96, C_C96, True),
    (B_AB_CREME2009, C_C09, True), (B_AB_ACE, C_ACE, True),
]

texts_a = [
    ("text", "a", 36, 31, "black", 32, None),
    ("text", "Near-Earth Interplanetary Space", 390, 25, "black", 20, None),
    ("text", "Matthiä/ACE", 112, 289, C_ACE, 21, None),
    ("text", "Matthiä/OULU", 113, 311, C_OULU, 21, None),
    ("text", "CREME96", 113, 334, C_C96, 21, None),
    ("text", "CREME2009", 114, 356, C_C09, 21, None),
    ("text", "Badhwar-O'Neill2010", 108, 377, C_BON, 21, None),
    ("text", "Dose equivalent rate", -74, 152, "black", 22, 270),
    ("text", "[mSv/d]", -47, 113, "black", 22, 270),
    ("rule", -47, 187, 227, False),
    ("text", "Absorbed dose rate", -74, 465, "black", 22, 270),
    ("text", "[mGy/d]", -47, 432, "black", 22, 270),
    ("rule", -47, 481, 554, True),
]
texts_b = [
    ("text", "b", 27, 32, "black", 32, None),
    ("text", "ISS Orbit", 416, 15, "black", 20, None),
    ("text", "Matthä/ACE", 112, 271, C_ACE, 21, None),
    ("text", "Matthä/OULU", 113, 293, C_OULU, 21, None),
    ("text", "CREME96", 113, 316, C_C96, 21, None),
    ("text", "CREME2009", 111, 338, C_C09, 21, None),
    ("text", "Badhwar-O'Neill 2010", 119, 362, C_BON, 21, None),
    ("text", "Dose equivalent rate", -93, 138, "black", 22, 270),
    ("text", "[mSv/d]", -62, 115, "black", 22, 270),
    ("rule", -64, 168, 231, False),
    ("text", "Absorbed dose rate", -93, 456, "black", 22, 270),
    ("text", "[mGy/d]", -64, 428, "black", 22, 270),
    ("rule", -64, 480, 538, True),
    ("text", "Year", 367, H + 40, "black", 22, None),
]

pa = panel(A_Y_DOMAIN, A_Y_MAJOR, A_Y_MINOR, series_a, texts_a)
pb = panel(B_Y_DOMAIN, B_Y_MAJOR, B_Y_MINOR, series_b, texts_b)

chart = alt.vconcat(pa, pb, spacing=32, bounds="flush").properties(
    padding={"left": 4, "top": 0, "right": 0, "bottom": 4}
).configure_view(stroke="black", strokeWidth=1.5)

chart.save("out.html", embed_options={"renderer": "svg", "actions": False})
